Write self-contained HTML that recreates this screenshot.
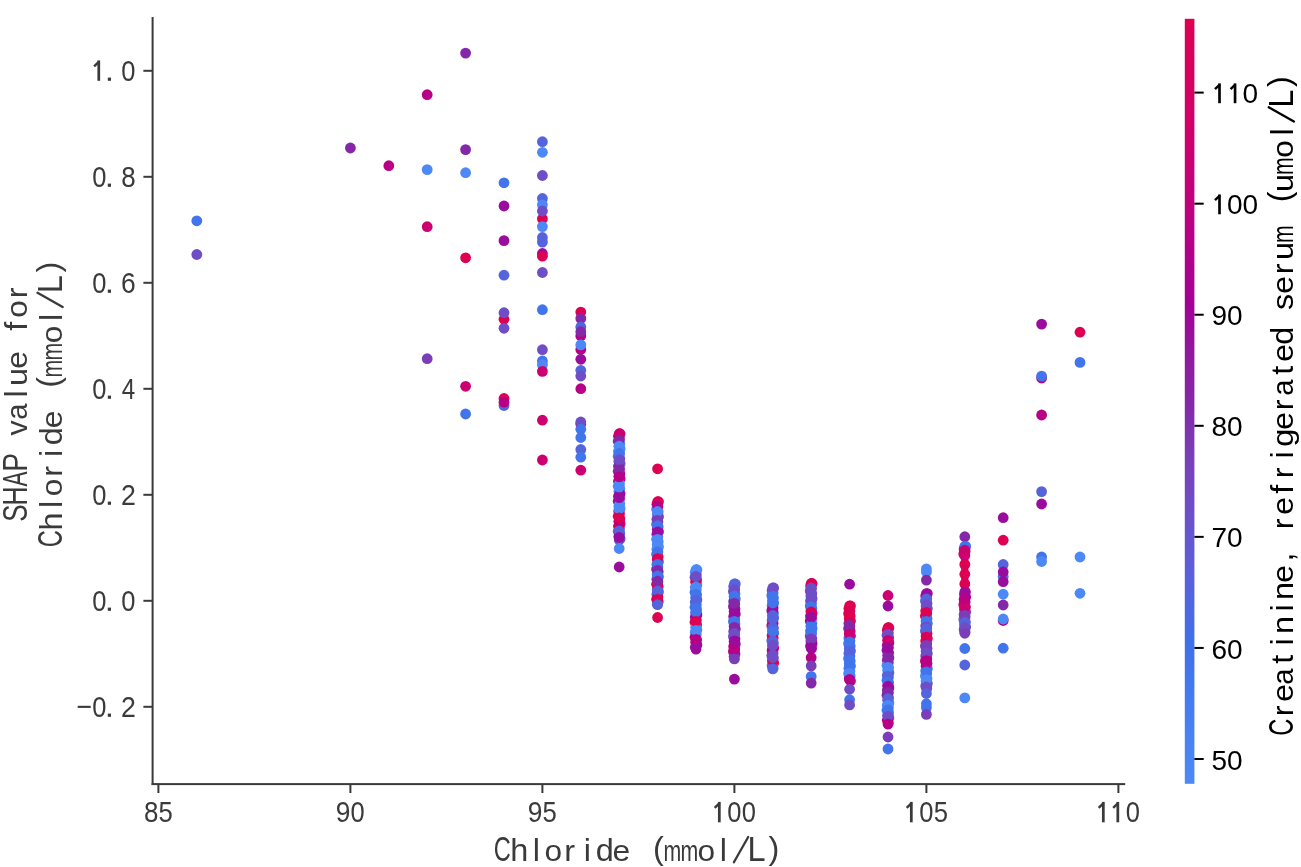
<!DOCTYPE html>
<html><head><meta charset="utf-8"><style>
html,body{margin:0;padding:0;background:#fff;overflow:hidden;width:1301px;height:867px;}
svg{display:block;filter:blur(0.4px);}
text{font-family:"Liberation Sans",sans-serif;}
</style></head><body>
<svg width="1301" height="867" viewBox="0 0 1301 867">
<rect width="1301" height="867" fill="#fff"/>
<defs><linearGradient id="cb" x1="0" y1="1" x2="0" y2="0"><stop offset="0.0" stop-color="#4d89f6"/><stop offset="0.093" stop-color="#467ef2"/><stop offset="0.184" stop-color="#3f70e8"/><stop offset="0.276" stop-color="#5b60da"/><stop offset="0.367" stop-color="#6f4dc6"/><stop offset="0.433" stop-color="#7b3db8"/><stop offset="0.498" stop-color="#8428a8"/><stop offset="0.563" stop-color="#92189e"/><stop offset="0.629" stop-color="#a30096"/><stop offset="0.72" stop-color="#b80086"/><stop offset="0.825" stop-color="#cc0070"/><stop offset="1.0" stop-color="#de0052"/></linearGradient></defs>
<rect x="151.6" y="17" width="2" height="768" fill="#3a3a3a"/>
<rect x="151.6" y="783.1" width="973.6" height="2" fill="#3a3a3a"/>
<rect x="157.40" y="784" width="2" height="9" fill="#3a3a3a"/>
<g><text transform="translate(143.93,822.30) scale(0.901,1.0)" font-size="28.8" fill="#3a3a3a">8</text><text transform="translate(158.53,822.30) scale(0.892,1.0)" font-size="28.8" fill="#3a3a3a">5</text></g>
<rect x="349.40" y="784" width="2" height="9" fill="#3a3a3a"/>
<g><text transform="translate(335.82,822.30) scale(0.916,1.0)" font-size="28.8" fill="#3a3a3a">9</text><text transform="translate(350.56,822.30) scale(0.885,1.0)" font-size="28.8" fill="#3a3a3a">0</text></g>
<rect x="541.40" y="784" width="2" height="9" fill="#3a3a3a"/>
<g><text transform="translate(527.82,822.30) scale(0.916,1.0)" font-size="28.8" fill="#3a3a3a">9</text><text transform="translate(542.53,822.30) scale(0.892,1.0)" font-size="28.8" fill="#3a3a3a">5</text></g>
<rect x="733.40" y="784" width="2" height="9" fill="#3a3a3a"/>
<g><rect x="717.95" y="801.91" width="2.74" height="20.39" fill="#3a3a3a"/><line x1="719.59" y1="803.14" x2="714.67" y2="807.81" stroke="#3a3a3a" stroke-width="2.46"/><text transform="translate(727.31,822.30) scale(0.885,1.0)" font-size="28.8" fill="#3a3a3a">0</text><text transform="translate(741.81,822.30) scale(0.885,1.0)" font-size="28.8" fill="#3a3a3a">0</text></g>
<rect x="925.40" y="784" width="2" height="9" fill="#3a3a3a"/>
<g><rect x="909.95" y="801.91" width="2.74" height="20.39" fill="#3a3a3a"/><line x1="911.59" y1="803.14" x2="906.67" y2="807.81" stroke="#3a3a3a" stroke-width="2.46"/><text transform="translate(919.31,822.30) scale(0.885,1.0)" font-size="28.8" fill="#3a3a3a">0</text><text transform="translate(933.78,822.30) scale(0.892,1.0)" font-size="28.8" fill="#3a3a3a">5</text></g>
<rect x="1117.40" y="784" width="2" height="9" fill="#3a3a3a"/>
<g><rect x="1101.95" y="801.91" width="2.74" height="20.39" fill="#3a3a3a"/><line x1="1103.59" y1="803.14" x2="1098.67" y2="807.81" stroke="#3a3a3a" stroke-width="2.46"/><rect x="1116.45" y="801.91" width="2.74" height="20.39" fill="#3a3a3a"/><line x1="1118.09" y1="803.14" x2="1113.17" y2="807.81" stroke="#3a3a3a" stroke-width="2.46"/><text transform="translate(1125.81,822.30) scale(0.885,1.0)" font-size="28.8" fill="#3a3a3a">0</text></g>
<rect x="143.4" y="69.80" width="9" height="2" fill="#3a3a3a"/>
<g><rect x="97.40" y="60.41" width="2.74" height="20.39" fill="#3a3a3a"/><line x1="99.04" y1="61.64" x2="94.12" y2="66.31" stroke="#3a3a3a" stroke-width="2.46"/></g>
<g><text transform="translate(121.26,80.80) scale(0.885,1.0)" font-size="28.8" fill="#3a3a3a">0</text></g>
<rect x="107.80" y="77.60" width="3.2" height="3.2" fill="#3a3a3a"/>
<rect x="143.4" y="175.80" width="9" height="2" fill="#3a3a3a"/>
<g><text transform="translate(92.26,186.80) scale(0.885,1.0)" font-size="28.8" fill="#3a3a3a">0</text></g>
<g><text transform="translate(121.13,186.80) scale(0.901,1.0)" font-size="28.8" fill="#3a3a3a">8</text></g>
<rect x="107.80" y="183.60" width="3.2" height="3.2" fill="#3a3a3a"/>
<rect x="143.4" y="281.80" width="9" height="2" fill="#3a3a3a"/>
<g><text transform="translate(92.26,292.80) scale(0.885,1.0)" font-size="28.8" fill="#3a3a3a">0</text></g>
<g><text transform="translate(120.92,292.80) scale(0.917,1.0)" font-size="28.8" fill="#3a3a3a">6</text></g>
<rect x="107.80" y="289.60" width="3.2" height="3.2" fill="#3a3a3a"/>
<rect x="143.4" y="387.80" width="9" height="2" fill="#3a3a3a"/>
<g><text transform="translate(92.26,398.80) scale(0.885,1.0)" font-size="28.8" fill="#3a3a3a">0</text></g>
<g><text transform="translate(121.71,398.80) scale(0.839,1.0)" font-size="28.8" fill="#3a3a3a">4</text></g>
<rect x="107.80" y="395.60" width="3.2" height="3.2" fill="#3a3a3a"/>
<rect x="143.4" y="493.80" width="9" height="2" fill="#3a3a3a"/>
<g><text transform="translate(92.26,504.80) scale(0.885,1.0)" font-size="28.8" fill="#3a3a3a">0</text></g>
<g><text transform="translate(120.92,504.80) scale(0.928,1.0)" font-size="28.8" fill="#3a3a3a">2</text></g>
<rect x="107.80" y="501.60" width="3.2" height="3.2" fill="#3a3a3a"/>
<rect x="143.4" y="599.80" width="9" height="2" fill="#3a3a3a"/>
<g><text transform="translate(92.26,610.80) scale(0.885,1.0)" font-size="28.8" fill="#3a3a3a">0</text></g>
<g><text transform="translate(121.26,610.80) scale(0.885,1.0)" font-size="28.8" fill="#3a3a3a">0</text></g>
<rect x="107.80" y="607.60" width="3.2" height="3.2" fill="#3a3a3a"/>
<rect x="143.4" y="705.80" width="9" height="2" fill="#3a3a3a"/>
<g><text transform="translate(92.26,716.80) scale(0.885,1.0)" font-size="28.8" fill="#3a3a3a">0</text></g>
<g><text transform="translate(120.92,716.80) scale(0.928,1.0)" font-size="28.8" fill="#3a3a3a">2</text></g>
<rect x="107.80" y="713.60" width="3.2" height="3.2" fill="#3a3a3a"/>
<rect x="77.7" y="705.80" width="13" height="2.1" fill="#3a3a3a"/>
<g><text transform="translate(493.72,861.30) scale(0.691,1.0)" font-size="34.2" fill="#3a3a3a">C</text><text transform="translate(510.29,861.30) scale(0.950,0.94)" font-size="34.2" fill="#3a3a3a">h</text><text transform="translate(532.78,861.30) scale(0.950,0.94)" font-size="34.2" fill="#3a3a3a">l</text><text transform="translate(544.59,861.30) scale(0.926,0.86)" font-size="34.2" fill="#3a3a3a">o</text><text transform="translate(564.18,861.30) scale(0.950,0.86)" font-size="34.2" fill="#3a3a3a">r</text><text transform="translate(583.80,861.30) scale(0.950,0.94)" font-size="34.2" fill="#3a3a3a">i</text><text transform="translate(595.73,861.30) scale(0.950,0.94)" font-size="34.2" fill="#3a3a3a">d</text><text transform="translate(612.57,861.30) scale(0.932,0.86)" font-size="34.2" fill="#3a3a3a">e</text><text transform="translate(653.10,858.73) scale(0.950,0.9)" font-size="34.2" fill="#3a3a3a">(</text><text transform="translate(663.50,861.30) scale(0.624,0.86)" font-size="34.2" fill="#3a3a3a">m</text><text transform="translate(680.50,861.30) scale(0.624,0.86)" font-size="34.2" fill="#3a3a3a">m</text><text transform="translate(697.59,861.30) scale(0.926,0.86)" font-size="34.2" fill="#3a3a3a">o</text><text transform="translate(719.78,861.30) scale(0.950,0.94)" font-size="34.2" fill="#3a3a3a">l</text><line x1="733.90" y1="862.20" x2="748.20" y2="837.00" stroke="#3a3a3a" stroke-width="2.3" stroke-linecap="round"/><text transform="translate(747.57,861.30) scale(0.950,1.0)" font-size="34.2" fill="#3a3a3a">L</text><text transform="translate(768.43,858.73) scale(0.950,0.9)" font-size="34.2" fill="#3a3a3a">)</text></g>
<g transform="translate(27,402.5) rotate(-90)"><g><text transform="translate(-119.16,0.00) scale(0.760,1.0)" font-size="34.2" fill="#3a3a3a">S</text><text transform="translate(-103.18,0.00) scale(0.783,1.0)" font-size="34.2" fill="#3a3a3a">H</text><text transform="translate(-84.02,0.00) scale(0.660,1.0)" font-size="34.2" fill="#3a3a3a">A</text><text transform="translate(-69.29,0.00) scale(0.822,1.0)" font-size="34.2" fill="#3a3a3a">P</text><text transform="translate(-33.08,0.00) scale(0.887,0.86)" font-size="34.2" fill="#3a3a3a">v</text><text transform="translate(-17.22,0.00) scale(0.852,0.86)" font-size="34.2" fill="#3a3a3a">a</text><text transform="translate(4.88,0.00) scale(0.950,0.94)" font-size="34.2" fill="#3a3a3a">l</text><text transform="translate(16.49,0.00) scale(0.950,0.86)" font-size="34.2" fill="#3a3a3a">u</text><text transform="translate(33.67,0.00) scale(0.932,0.86)" font-size="34.2" fill="#3a3a3a">e</text><text transform="translate(71.73,0.00) scale(0.950,0.94)" font-size="34.2" fill="#3a3a3a">f</text><text transform="translate(84.69,0.00) scale(0.926,0.86)" font-size="34.2" fill="#3a3a3a">o</text><text transform="translate(104.28,0.00) scale(0.950,0.86)" font-size="34.2" fill="#3a3a3a">r</text></g></g>
<g transform="translate(61.8,402.5) rotate(-90)"><g><text transform="translate(-144.68,0.00) scale(0.691,1.0)" font-size="34.2" fill="#3a3a3a">C</text><text transform="translate(-128.11,0.00) scale(0.950,0.94)" font-size="34.2" fill="#3a3a3a">h</text><text transform="translate(-105.62,0.00) scale(0.950,0.94)" font-size="34.2" fill="#3a3a3a">l</text><text transform="translate(-93.81,0.00) scale(0.926,0.86)" font-size="34.2" fill="#3a3a3a">o</text><text transform="translate(-74.22,0.00) scale(0.950,0.86)" font-size="34.2" fill="#3a3a3a">r</text><text transform="translate(-54.60,0.00) scale(0.950,0.94)" font-size="34.2" fill="#3a3a3a">i</text><text transform="translate(-42.67,0.00) scale(0.950,0.94)" font-size="34.2" fill="#3a3a3a">d</text><text transform="translate(-25.83,0.00) scale(0.932,0.86)" font-size="34.2" fill="#3a3a3a">e</text><text transform="translate(14.70,-2.56) scale(0.950,0.9)" font-size="34.2" fill="#3a3a3a">(</text><text transform="translate(25.10,0.00) scale(0.624,0.86)" font-size="34.2" fill="#3a3a3a">m</text><text transform="translate(42.10,0.00) scale(0.624,0.86)" font-size="34.2" fill="#3a3a3a">m</text><text transform="translate(59.19,0.00) scale(0.926,0.86)" font-size="34.2" fill="#3a3a3a">o</text><text transform="translate(81.38,0.00) scale(0.950,0.94)" font-size="34.2" fill="#3a3a3a">l</text><line x1="95.50" y1="0.90" x2="109.80" y2="-24.30" stroke="#3a3a3a" stroke-width="2.3" stroke-linecap="round"/><text transform="translate(109.17,0.00) scale(0.950,1.0)" font-size="34.2" fill="#3a3a3a">L</text><text transform="translate(130.03,-2.56) scale(0.950,0.9)" font-size="34.2" fill="#3a3a3a">)</text></g></g>
<circle cx="620.1" cy="433.7" r="5.4" fill="#cc0070"/>
<circle cx="618.5" cy="436.2" r="5.4" fill="#cc0070"/>
<circle cx="619.5" cy="438.7" r="5.4" fill="#8428a8"/>
<circle cx="618.2" cy="441.2" r="5.4" fill="#8428a8"/>
<circle cx="619.8" cy="443.7" r="5.4" fill="#4d89f6"/>
<circle cx="618.9" cy="446.2" r="5.4" fill="#4d89f6"/>
<circle cx="620.1" cy="448.7" r="5.4" fill="#4d89f6"/>
<circle cx="618.5" cy="451.2" r="5.4" fill="#4d89f6"/>
<circle cx="619.5" cy="453.7" r="5.4" fill="#4274ec"/>
<circle cx="618.2" cy="456.2" r="5.4" fill="#4274ec"/>
<circle cx="619.8" cy="458.7" r="5.4" fill="#6f4dc6"/>
<circle cx="618.9" cy="461.2" r="5.4" fill="#6f4dc6"/>
<circle cx="620.1" cy="463.7" r="5.4" fill="#6f4dc6"/>
<circle cx="618.5" cy="466.2" r="5.4" fill="#8428a8"/>
<circle cx="619.5" cy="468.7" r="5.4" fill="#8428a8"/>
<circle cx="618.2" cy="471.2" r="5.4" fill="#8428a8"/>
<circle cx="619.8" cy="473.7" r="5.4" fill="#b80086"/>
<circle cx="618.9" cy="476.2" r="5.4" fill="#b80086"/>
<circle cx="620.1" cy="478.7" r="5.4" fill="#b80086"/>
<circle cx="618.5" cy="481.2" r="5.4" fill="#b80086"/>
<circle cx="619.5" cy="483.7" r="5.4" fill="#4d89f6"/>
<circle cx="618.2" cy="486.2" r="5.4" fill="#4d89f6"/>
<circle cx="619.8" cy="488.7" r="5.4" fill="#4d89f6"/>
<circle cx="618.9" cy="491.2" r="5.4" fill="#4d89f6"/>
<circle cx="620.1" cy="493.7" r="5.4" fill="#9a0c9e"/>
<circle cx="618.5" cy="496.2" r="5.4" fill="#9a0c9e"/>
<circle cx="619.5" cy="498.7" r="5.4" fill="#9a0c9e"/>
<circle cx="618.2" cy="501.2" r="5.4" fill="#9a0c9e"/>
<circle cx="619.8" cy="503.7" r="5.4" fill="#4d89f6"/>
<circle cx="618.9" cy="506.2" r="5.4" fill="#4d89f6"/>
<circle cx="620.1" cy="508.7" r="5.4" fill="#4d89f6"/>
<circle cx="618.5" cy="511.2" r="5.4" fill="#4d89f6"/>
<circle cx="619.5" cy="513.7" r="5.4" fill="#de0052"/>
<circle cx="618.2" cy="516.2" r="5.4" fill="#de0052"/>
<circle cx="619.8" cy="518.7" r="5.4" fill="#de0052"/>
<circle cx="618.9" cy="521.2" r="5.4" fill="#b80086"/>
<circle cx="620.1" cy="523.7" r="5.4" fill="#de0052"/>
<circle cx="618.5" cy="526.2" r="5.4" fill="#de0052"/>
<circle cx="619.5" cy="528.7" r="5.4" fill="#5563dc"/>
<circle cx="618.2" cy="531.2" r="5.4" fill="#5563dc"/>
<circle cx="619.8" cy="533.7" r="5.4" fill="#5563dc"/>
<circle cx="618.9" cy="536.2" r="5.4" fill="#9a0c9e"/>
<circle cx="620.1" cy="538.7" r="5.4" fill="#6f4dc6"/>
<circle cx="658.5" cy="501.7" r="5.4" fill="#de0052"/>
<circle cx="656.9" cy="504.2" r="5.4" fill="#b80086"/>
<circle cx="657.9" cy="506.7" r="5.4" fill="#b80086"/>
<circle cx="656.6" cy="509.2" r="5.4" fill="#4d89f6"/>
<circle cx="658.2" cy="511.7" r="5.4" fill="#4d89f6"/>
<circle cx="657.3" cy="514.2" r="5.4" fill="#4d89f6"/>
<circle cx="658.5" cy="516.7" r="5.4" fill="#7b3db8"/>
<circle cx="656.9" cy="519.2" r="5.4" fill="#7b3db8"/>
<circle cx="657.9" cy="521.7" r="5.4" fill="#7b3db8"/>
<circle cx="656.6" cy="524.2" r="5.4" fill="#4274ec"/>
<circle cx="658.2" cy="526.7" r="5.4" fill="#4274ec"/>
<circle cx="657.3" cy="529.2" r="5.4" fill="#9a0c9e"/>
<circle cx="658.5" cy="531.7" r="5.4" fill="#9a0c9e"/>
<circle cx="656.9" cy="534.2" r="5.4" fill="#9a0c9e"/>
<circle cx="657.9" cy="536.7" r="5.4" fill="#4d89f6"/>
<circle cx="656.6" cy="539.2" r="5.4" fill="#4d89f6"/>
<circle cx="658.2" cy="541.7" r="5.4" fill="#4d89f6"/>
<circle cx="657.3" cy="544.2" r="5.4" fill="#4d89f6"/>
<circle cx="658.5" cy="546.7" r="5.4" fill="#4d89f6"/>
<circle cx="656.9" cy="549.2" r="5.4" fill="#4d89f6"/>
<circle cx="657.9" cy="551.7" r="5.4" fill="#4274ec"/>
<circle cx="656.6" cy="554.2" r="5.4" fill="#4274ec"/>
<circle cx="658.2" cy="556.7" r="5.4" fill="#de0052"/>
<circle cx="657.3" cy="559.2" r="5.4" fill="#de0052"/>
<circle cx="658.5" cy="561.7" r="5.4" fill="#4274ec"/>
<circle cx="656.9" cy="564.2" r="5.4" fill="#4274ec"/>
<circle cx="657.9" cy="566.7" r="5.4" fill="#4274ec"/>
<circle cx="656.6" cy="569.2" r="5.4" fill="#8428a8"/>
<circle cx="658.2" cy="571.7" r="5.4" fill="#8428a8"/>
<circle cx="657.3" cy="574.2" r="5.4" fill="#4274ec"/>
<circle cx="658.5" cy="576.7" r="5.4" fill="#4274ec"/>
<circle cx="656.9" cy="579.2" r="5.4" fill="#8428a8"/>
<circle cx="657.9" cy="581.7" r="5.4" fill="#8428a8"/>
<circle cx="656.6" cy="584.2" r="5.4" fill="#de0052"/>
<circle cx="658.2" cy="586.7" r="5.4" fill="#de0052"/>
<circle cx="657.3" cy="589.2" r="5.4" fill="#5563dc"/>
<circle cx="658.5" cy="591.7" r="5.4" fill="#5563dc"/>
<circle cx="656.9" cy="594.2" r="5.4" fill="#5563dc"/>
<circle cx="657.9" cy="596.7" r="5.4" fill="#de0052"/>
<circle cx="656.6" cy="599.2" r="5.4" fill="#de0052"/>
<circle cx="658.2" cy="601.7" r="5.4" fill="#de0052"/>
<circle cx="657.3" cy="604.2" r="5.4" fill="#5563dc"/>
<circle cx="696.9" cy="569.7" r="5.4" fill="#4d89f6"/>
<circle cx="695.3" cy="572.2" r="5.4" fill="#4d89f6"/>
<circle cx="696.3" cy="574.7" r="5.4" fill="#6f4dc6"/>
<circle cx="695.0" cy="577.2" r="5.4" fill="#6f4dc6"/>
<circle cx="696.6" cy="579.7" r="5.4" fill="#de0052"/>
<circle cx="695.7" cy="582.2" r="5.4" fill="#de0052"/>
<circle cx="696.9" cy="584.7" r="5.4" fill="#4d89f6"/>
<circle cx="695.3" cy="587.2" r="5.4" fill="#4d89f6"/>
<circle cx="696.3" cy="589.7" r="5.4" fill="#4d89f6"/>
<circle cx="695.0" cy="592.2" r="5.4" fill="#4274ec"/>
<circle cx="696.6" cy="594.7" r="5.4" fill="#4274ec"/>
<circle cx="695.7" cy="597.2" r="5.4" fill="#4274ec"/>
<circle cx="696.9" cy="599.7" r="5.4" fill="#5563dc"/>
<circle cx="695.3" cy="602.2" r="5.4" fill="#5563dc"/>
<circle cx="696.3" cy="604.7" r="5.4" fill="#4274ec"/>
<circle cx="695.0" cy="607.2" r="5.4" fill="#4274ec"/>
<circle cx="696.6" cy="609.7" r="5.4" fill="#4274ec"/>
<circle cx="695.7" cy="612.2" r="5.4" fill="#4274ec"/>
<circle cx="696.9" cy="614.7" r="5.4" fill="#9a0c9e"/>
<circle cx="695.3" cy="617.2" r="5.4" fill="#9a0c9e"/>
<circle cx="696.3" cy="619.7" r="5.4" fill="#de0052"/>
<circle cx="695.0" cy="622.2" r="5.4" fill="#de0052"/>
<circle cx="696.6" cy="624.7" r="5.4" fill="#de0052"/>
<circle cx="695.7" cy="627.2" r="5.4" fill="#4d89f6"/>
<circle cx="696.9" cy="629.7" r="5.4" fill="#4d89f6"/>
<circle cx="695.3" cy="632.2" r="5.4" fill="#4d89f6"/>
<circle cx="696.3" cy="634.7" r="5.4" fill="#4d89f6"/>
<circle cx="695.0" cy="637.2" r="5.4" fill="#b80086"/>
<circle cx="696.6" cy="639.7" r="5.4" fill="#b80086"/>
<circle cx="695.7" cy="642.2" r="5.4" fill="#b80086"/>
<circle cx="696.9" cy="644.7" r="5.4" fill="#9a0c9e"/>
<circle cx="695.3" cy="647.2" r="5.4" fill="#9a0c9e"/>
<circle cx="735.3" cy="584.0" r="5.4" fill="#5563dc"/>
<circle cx="733.7" cy="586.5" r="5.4" fill="#5563dc"/>
<circle cx="734.7" cy="589.0" r="5.4" fill="#6f4dc6"/>
<circle cx="733.4" cy="591.5" r="5.4" fill="#6f4dc6"/>
<circle cx="735.0" cy="594.0" r="5.4" fill="#4274ec"/>
<circle cx="734.1" cy="596.5" r="5.4" fill="#4274ec"/>
<circle cx="735.3" cy="599.0" r="5.4" fill="#4274ec"/>
<circle cx="733.7" cy="601.5" r="5.4" fill="#8428a8"/>
<circle cx="734.7" cy="604.0" r="5.4" fill="#8428a8"/>
<circle cx="733.4" cy="606.5" r="5.4" fill="#8428a8"/>
<circle cx="735.0" cy="609.0" r="5.4" fill="#9a0c9e"/>
<circle cx="734.1" cy="611.5" r="5.4" fill="#9a0c9e"/>
<circle cx="735.3" cy="614.0" r="5.4" fill="#9a0c9e"/>
<circle cx="733.7" cy="616.5" r="5.4" fill="#9a0c9e"/>
<circle cx="734.7" cy="619.0" r="5.4" fill="#4274ec"/>
<circle cx="733.4" cy="621.5" r="5.4" fill="#4274ec"/>
<circle cx="735.0" cy="624.0" r="5.4" fill="#4274ec"/>
<circle cx="734.1" cy="626.5" r="5.4" fill="#8428a8"/>
<circle cx="735.3" cy="629.0" r="5.4" fill="#8428a8"/>
<circle cx="733.7" cy="631.5" r="5.4" fill="#6f4dc6"/>
<circle cx="734.7" cy="634.0" r="5.4" fill="#6f4dc6"/>
<circle cx="733.4" cy="636.5" r="5.4" fill="#6f4dc6"/>
<circle cx="735.0" cy="639.0" r="5.4" fill="#9a0c9e"/>
<circle cx="734.1" cy="641.5" r="5.4" fill="#9a0c9e"/>
<circle cx="735.3" cy="644.0" r="5.4" fill="#9a0c9e"/>
<circle cx="733.7" cy="646.5" r="5.4" fill="#b80086"/>
<circle cx="734.7" cy="649.0" r="5.4" fill="#b80086"/>
<circle cx="733.4" cy="651.5" r="5.4" fill="#b80086"/>
<circle cx="735.0" cy="654.0" r="5.4" fill="#b80086"/>
<circle cx="734.1" cy="656.5" r="5.4" fill="#7b3db8"/>
<circle cx="773.7" cy="588.0" r="5.4" fill="#6f4dc6"/>
<circle cx="772.1" cy="590.5" r="5.4" fill="#6f4dc6"/>
<circle cx="773.1" cy="593.0" r="5.4" fill="#4274ec"/>
<circle cx="771.8" cy="595.5" r="5.4" fill="#4274ec"/>
<circle cx="773.4" cy="598.0" r="5.4" fill="#4274ec"/>
<circle cx="772.5" cy="600.5" r="5.4" fill="#4274ec"/>
<circle cx="773.7" cy="603.0" r="5.4" fill="#4274ec"/>
<circle cx="772.1" cy="605.5" r="5.4" fill="#4274ec"/>
<circle cx="773.1" cy="608.0" r="5.4" fill="#9a0c9e"/>
<circle cx="771.8" cy="610.5" r="5.4" fill="#9a0c9e"/>
<circle cx="773.4" cy="613.0" r="5.4" fill="#5563dc"/>
<circle cx="772.5" cy="615.5" r="5.4" fill="#5563dc"/>
<circle cx="773.7" cy="618.0" r="5.4" fill="#5563dc"/>
<circle cx="772.1" cy="620.5" r="5.4" fill="#5563dc"/>
<circle cx="773.1" cy="623.0" r="5.4" fill="#cc0070"/>
<circle cx="771.8" cy="625.5" r="5.4" fill="#cc0070"/>
<circle cx="773.4" cy="628.0" r="5.4" fill="#5563dc"/>
<circle cx="772.5" cy="630.5" r="5.4" fill="#4274ec"/>
<circle cx="773.7" cy="633.0" r="5.4" fill="#4274ec"/>
<circle cx="772.1" cy="635.5" r="5.4" fill="#de0052"/>
<circle cx="773.1" cy="638.0" r="5.4" fill="#de0052"/>
<circle cx="771.8" cy="640.5" r="5.4" fill="#5563dc"/>
<circle cx="773.4" cy="643.0" r="5.4" fill="#5563dc"/>
<circle cx="772.5" cy="645.5" r="5.4" fill="#6f4dc6"/>
<circle cx="773.7" cy="648.0" r="5.4" fill="#b80086"/>
<circle cx="772.1" cy="650.5" r="5.4" fill="#b80086"/>
<circle cx="773.1" cy="653.0" r="5.4" fill="#6f4dc6"/>
<circle cx="771.8" cy="655.5" r="5.4" fill="#6f4dc6"/>
<circle cx="773.4" cy="658.0" r="5.4" fill="#6f4dc6"/>
<circle cx="772.5" cy="660.5" r="5.4" fill="#de0052"/>
<circle cx="773.7" cy="663.0" r="5.4" fill="#de0052"/>
<circle cx="772.1" cy="665.5" r="5.4" fill="#5563dc"/>
<circle cx="773.1" cy="668.0" r="5.4" fill="#5563dc"/>
<circle cx="812.1" cy="583.5" r="5.4" fill="#de0052"/>
<circle cx="810.5" cy="586.0" r="5.4" fill="#6f4dc6"/>
<circle cx="811.5" cy="588.5" r="5.4" fill="#6f4dc6"/>
<circle cx="810.2" cy="591.0" r="5.4" fill="#6f4dc6"/>
<circle cx="811.8" cy="593.5" r="5.4" fill="#6f4dc6"/>
<circle cx="810.9" cy="596.0" r="5.4" fill="#6f4dc6"/>
<circle cx="812.1" cy="598.5" r="5.4" fill="#6f4dc6"/>
<circle cx="810.5" cy="601.0" r="5.4" fill="#6f4dc6"/>
<circle cx="811.5" cy="603.5" r="5.4" fill="#4274ec"/>
<circle cx="810.2" cy="606.0" r="5.4" fill="#4274ec"/>
<circle cx="811.8" cy="608.5" r="5.4" fill="#4274ec"/>
<circle cx="810.9" cy="611.0" r="5.4" fill="#de0052"/>
<circle cx="812.1" cy="613.5" r="5.4" fill="#de0052"/>
<circle cx="810.5" cy="616.0" r="5.4" fill="#9a0c9e"/>
<circle cx="811.5" cy="618.5" r="5.4" fill="#9a0c9e"/>
<circle cx="810.2" cy="621.0" r="5.4" fill="#9a0c9e"/>
<circle cx="811.8" cy="623.5" r="5.4" fill="#4274ec"/>
<circle cx="810.9" cy="626.0" r="5.4" fill="#4274ec"/>
<circle cx="812.1" cy="628.5" r="5.4" fill="#4274ec"/>
<circle cx="810.5" cy="631.0" r="5.4" fill="#4274ec"/>
<circle cx="811.5" cy="633.5" r="5.4" fill="#4274ec"/>
<circle cx="810.2" cy="636.0" r="5.4" fill="#7b3db8"/>
<circle cx="811.8" cy="638.5" r="5.4" fill="#7b3db8"/>
<circle cx="810.9" cy="641.0" r="5.4" fill="#7b3db8"/>
<circle cx="812.1" cy="643.5" r="5.4" fill="#9a0c9e"/>
<circle cx="810.5" cy="646.0" r="5.4" fill="#9a0c9e"/>
<circle cx="811.5" cy="648.5" r="5.4" fill="#9a0c9e"/>
<circle cx="850.5" cy="606.0" r="5.4" fill="#de0052"/>
<circle cx="848.9" cy="608.5" r="5.4" fill="#de0052"/>
<circle cx="849.9" cy="611.0" r="5.4" fill="#de0052"/>
<circle cx="848.6" cy="613.5" r="5.4" fill="#de0052"/>
<circle cx="850.2" cy="616.0" r="5.4" fill="#de0052"/>
<circle cx="849.3" cy="618.5" r="5.4" fill="#de0052"/>
<circle cx="850.5" cy="621.0" r="5.4" fill="#de0052"/>
<circle cx="848.9" cy="623.5" r="5.4" fill="#8428a8"/>
<circle cx="849.9" cy="626.0" r="5.4" fill="#8428a8"/>
<circle cx="848.6" cy="628.5" r="5.4" fill="#8428a8"/>
<circle cx="850.2" cy="631.0" r="5.4" fill="#cc0070"/>
<circle cx="849.3" cy="633.5" r="5.4" fill="#cc0070"/>
<circle cx="850.5" cy="636.0" r="5.4" fill="#cc0070"/>
<circle cx="848.9" cy="638.5" r="5.4" fill="#4274ec"/>
<circle cx="849.9" cy="641.0" r="5.4" fill="#4274ec"/>
<circle cx="848.6" cy="643.5" r="5.4" fill="#4274ec"/>
<circle cx="850.2" cy="646.0" r="5.4" fill="#4274ec"/>
<circle cx="849.3" cy="648.5" r="5.4" fill="#5563dc"/>
<circle cx="850.5" cy="651.0" r="5.4" fill="#5563dc"/>
<circle cx="848.9" cy="653.5" r="5.4" fill="#5563dc"/>
<circle cx="849.9" cy="656.0" r="5.4" fill="#4274ec"/>
<circle cx="848.6" cy="658.5" r="5.4" fill="#4274ec"/>
<circle cx="850.2" cy="661.0" r="5.4" fill="#4274ec"/>
<circle cx="849.3" cy="663.5" r="5.4" fill="#4274ec"/>
<circle cx="850.5" cy="666.0" r="5.4" fill="#4274ec"/>
<circle cx="848.9" cy="668.5" r="5.4" fill="#4274ec"/>
<circle cx="849.9" cy="671.0" r="5.4" fill="#4d89f6"/>
<circle cx="848.6" cy="673.5" r="5.4" fill="#4d89f6"/>
<circle cx="850.2" cy="676.0" r="5.4" fill="#4d89f6"/>
<circle cx="849.3" cy="678.5" r="5.4" fill="#b80086"/>
<circle cx="850.5" cy="681.0" r="5.4" fill="#b80086"/>
<circle cx="888.9" cy="627.7" r="5.4" fill="#de0052"/>
<circle cx="887.3" cy="630.2" r="5.4" fill="#de0052"/>
<circle cx="888.3" cy="632.7" r="5.4" fill="#6f4dc6"/>
<circle cx="887.0" cy="635.2" r="5.4" fill="#6f4dc6"/>
<circle cx="888.6" cy="637.7" r="5.4" fill="#cc0070"/>
<circle cx="887.7" cy="640.2" r="5.4" fill="#cc0070"/>
<circle cx="888.9" cy="642.7" r="5.4" fill="#cc0070"/>
<circle cx="887.3" cy="645.2" r="5.4" fill="#9a0c9e"/>
<circle cx="888.3" cy="647.7" r="5.4" fill="#9a0c9e"/>
<circle cx="887.0" cy="650.2" r="5.4" fill="#9a0c9e"/>
<circle cx="888.6" cy="652.7" r="5.4" fill="#9a0c9e"/>
<circle cx="887.7" cy="655.2" r="5.4" fill="#8428a8"/>
<circle cx="888.9" cy="657.7" r="5.4" fill="#8428a8"/>
<circle cx="887.3" cy="660.2" r="5.4" fill="#8428a8"/>
<circle cx="888.3" cy="662.7" r="5.4" fill="#8428a8"/>
<circle cx="887.0" cy="665.2" r="5.4" fill="#4d89f6"/>
<circle cx="888.6" cy="667.7" r="5.4" fill="#4d89f6"/>
<circle cx="887.7" cy="670.2" r="5.4" fill="#4d89f6"/>
<circle cx="888.9" cy="672.7" r="5.4" fill="#5563dc"/>
<circle cx="887.3" cy="675.2" r="5.4" fill="#5563dc"/>
<circle cx="888.3" cy="677.7" r="5.4" fill="#5563dc"/>
<circle cx="887.0" cy="680.2" r="5.4" fill="#4274ec"/>
<circle cx="888.6" cy="682.7" r="5.4" fill="#4274ec"/>
<circle cx="887.7" cy="685.2" r="5.4" fill="#9a0c9e"/>
<circle cx="888.9" cy="687.7" r="5.4" fill="#9a0c9e"/>
<circle cx="887.3" cy="690.2" r="5.4" fill="#8428a8"/>
<circle cx="888.3" cy="692.7" r="5.4" fill="#8428a8"/>
<circle cx="887.0" cy="695.2" r="5.4" fill="#8428a8"/>
<circle cx="888.6" cy="697.7" r="5.4" fill="#5563dc"/>
<circle cx="887.7" cy="700.2" r="5.4" fill="#5563dc"/>
<circle cx="888.9" cy="702.7" r="5.4" fill="#4d89f6"/>
<circle cx="887.3" cy="705.2" r="5.4" fill="#4d89f6"/>
<circle cx="888.3" cy="707.7" r="5.4" fill="#4274ec"/>
<circle cx="887.0" cy="710.2" r="5.4" fill="#4274ec"/>
<circle cx="888.6" cy="712.7" r="5.4" fill="#4274ec"/>
<circle cx="887.7" cy="715.2" r="5.4" fill="#6f4dc6"/>
<circle cx="888.9" cy="717.7" r="5.4" fill="#6f4dc6"/>
<circle cx="887.3" cy="720.2" r="5.4" fill="#b80086"/>
<circle cx="888.3" cy="722.7" r="5.4" fill="#b80086"/>
<circle cx="927.3" cy="593.6" r="5.4" fill="#9a0c9e"/>
<circle cx="925.7" cy="596.1" r="5.4" fill="#9a0c9e"/>
<circle cx="926.7" cy="598.6" r="5.4" fill="#5563dc"/>
<circle cx="925.4" cy="601.1" r="5.4" fill="#5563dc"/>
<circle cx="927.0" cy="603.6" r="5.4" fill="#6f4dc6"/>
<circle cx="926.1" cy="606.1" r="5.4" fill="#6f4dc6"/>
<circle cx="927.3" cy="608.6" r="5.4" fill="#6f4dc6"/>
<circle cx="925.7" cy="611.1" r="5.4" fill="#de0052"/>
<circle cx="926.7" cy="613.6" r="5.4" fill="#de0052"/>
<circle cx="925.4" cy="616.1" r="5.4" fill="#de0052"/>
<circle cx="927.0" cy="618.6" r="5.4" fill="#4274ec"/>
<circle cx="926.1" cy="621.1" r="5.4" fill="#4274ec"/>
<circle cx="927.3" cy="623.6" r="5.4" fill="#4274ec"/>
<circle cx="925.7" cy="626.1" r="5.4" fill="#6f4dc6"/>
<circle cx="926.7" cy="628.6" r="5.4" fill="#5563dc"/>
<circle cx="925.4" cy="631.1" r="5.4" fill="#5563dc"/>
<circle cx="927.0" cy="633.6" r="5.4" fill="#de0052"/>
<circle cx="926.1" cy="636.1" r="5.4" fill="#de0052"/>
<circle cx="927.3" cy="638.6" r="5.4" fill="#de0052"/>
<circle cx="925.7" cy="641.1" r="5.4" fill="#de0052"/>
<circle cx="926.7" cy="643.6" r="5.4" fill="#7b3db8"/>
<circle cx="925.4" cy="646.1" r="5.4" fill="#7b3db8"/>
<circle cx="927.0" cy="648.6" r="5.4" fill="#7b3db8"/>
<circle cx="926.1" cy="651.1" r="5.4" fill="#6f4dc6"/>
<circle cx="927.3" cy="653.6" r="5.4" fill="#6f4dc6"/>
<circle cx="925.7" cy="656.1" r="5.4" fill="#6f4dc6"/>
<circle cx="926.7" cy="658.6" r="5.4" fill="#b80086"/>
<circle cx="925.4" cy="661.1" r="5.4" fill="#b80086"/>
<circle cx="927.0" cy="663.6" r="5.4" fill="#b80086"/>
<circle cx="926.1" cy="666.1" r="5.4" fill="#b80086"/>
<circle cx="927.3" cy="668.6" r="5.4" fill="#4274ec"/>
<circle cx="925.7" cy="671.1" r="5.4" fill="#4274ec"/>
<circle cx="926.7" cy="673.6" r="5.4" fill="#4274ec"/>
<circle cx="925.4" cy="676.1" r="5.4" fill="#4d89f6"/>
<circle cx="927.0" cy="678.6" r="5.4" fill="#4d89f6"/>
<circle cx="926.1" cy="681.1" r="5.4" fill="#4d89f6"/>
<circle cx="927.3" cy="683.6" r="5.4" fill="#6f4dc6"/>
<circle cx="925.7" cy="686.1" r="5.4" fill="#6f4dc6"/>
<circle cx="926.7" cy="688.6" r="5.4" fill="#6f4dc6"/>
<circle cx="965.7" cy="546.4" r="5.4" fill="#4274ec"/>
<circle cx="964.1" cy="548.9" r="5.4" fill="#cc0070"/>
<circle cx="965.1" cy="551.4" r="5.4" fill="#cc0070"/>
<circle cx="963.8" cy="553.9" r="5.4" fill="#cc0070"/>
<circle cx="965.4" cy="592.0" r="5.4" fill="#9a0c9e"/>
<circle cx="964.5" cy="594.5" r="5.4" fill="#9a0c9e"/>
<circle cx="965.7" cy="597.0" r="5.4" fill="#b80086"/>
<circle cx="964.1" cy="599.5" r="5.4" fill="#b80086"/>
<circle cx="965.1" cy="602.0" r="5.4" fill="#b80086"/>
<circle cx="963.8" cy="604.5" r="5.4" fill="#cc0070"/>
<circle cx="965.4" cy="607.0" r="5.4" fill="#cc0070"/>
<circle cx="964.5" cy="609.5" r="5.4" fill="#cc0070"/>
<circle cx="965.7" cy="612.0" r="5.4" fill="#7b3db8"/>
<circle cx="964.1" cy="614.5" r="5.4" fill="#7b3db8"/>
<circle cx="965.1" cy="617.0" r="5.4" fill="#7b3db8"/>
<circle cx="963.8" cy="619.5" r="5.4" fill="#5563dc"/>
<circle cx="965.4" cy="622.0" r="5.4" fill="#5563dc"/>
<circle cx="964.5" cy="624.5" r="5.4" fill="#5563dc"/>
<circle cx="965.7" cy="627.0" r="5.4" fill="#6f4dc6"/>
<circle cx="964.1" cy="629.5" r="5.4" fill="#6f4dc6"/>
<circle cx="965.1" cy="632.0" r="5.4" fill="#7b3db8"/>
<circle cx="964.8" cy="556.0" r="3.6" fill="#cc0070"/>
<circle cx="964.8" cy="558.5" r="3.6" fill="#cc0070"/>
<circle cx="964.8" cy="561.0" r="3.6" fill="#de0052"/>
<circle cx="964.8" cy="563.5" r="3.6" fill="#de0052"/>
<circle cx="964.8" cy="566.0" r="3.6" fill="#de0052"/>
<circle cx="964.8" cy="568.5" r="3.6" fill="#de0052"/>
<circle cx="964.8" cy="571.0" r="3.6" fill="#de0052"/>
<circle cx="964.8" cy="573.5" r="3.6" fill="#de0052"/>
<circle cx="964.8" cy="576.0" r="3.6" fill="#de0052"/>
<circle cx="964.8" cy="578.5" r="3.6" fill="#de0052"/>
<circle cx="964.8" cy="581.0" r="3.6" fill="#de0052"/>
<circle cx="964.8" cy="583.5" r="3.6" fill="#de0052"/>
<circle cx="964.8" cy="586.0" r="3.6" fill="#de0052"/>
<circle cx="964.8" cy="588.5" r="3.6" fill="#9a0c9e"/>
<circle cx="964.8" cy="591.0" r="3.6" fill="#9a0c9e"/>
<circle cx="196.8" cy="220.8" r="5.4" fill="#4274ec"/>
<circle cx="196.8" cy="254.5" r="5.4" fill="#6f4dc6"/>
<circle cx="350.4" cy="148.0" r="5.4" fill="#8428a8"/>
<circle cx="388.8" cy="165.7" r="5.4" fill="#b80086"/>
<circle cx="427.2" cy="94.7" r="5.4" fill="#b80086"/>
<circle cx="427.2" cy="169.6" r="5.4" fill="#4d89f6"/>
<circle cx="427.2" cy="226.7" r="5.4" fill="#cc0070"/>
<circle cx="427.2" cy="358.7" r="5.4" fill="#7b3db8"/>
<circle cx="465.6" cy="53.1" r="5.4" fill="#8428a8"/>
<circle cx="465.6" cy="149.6" r="5.4" fill="#8428a8"/>
<circle cx="465.6" cy="172.7" r="5.4" fill="#4d89f6"/>
<circle cx="465.6" cy="257.8" r="5.4" fill="#de0052"/>
<circle cx="465.6" cy="386.3" r="5.4" fill="#cc0070"/>
<circle cx="465.6" cy="414.0" r="5.4" fill="#4274ec"/>
<circle cx="504.0" cy="182.8" r="5.4" fill="#4274ec"/>
<circle cx="504.0" cy="206.0" r="5.4" fill="#9a0c9e"/>
<circle cx="504.0" cy="240.6" r="5.4" fill="#9a0c9e"/>
<circle cx="504.0" cy="275.2" r="5.4" fill="#5563dc"/>
<circle cx="504.0" cy="319.3" r="5.4" fill="#de0052"/>
<circle cx="504.0" cy="312.7" r="5.4" fill="#6f4dc6"/>
<circle cx="504.0" cy="328.3" r="5.4" fill="#6f4dc6"/>
<circle cx="504.0" cy="405.5" r="5.4" fill="#5563dc"/>
<circle cx="504.0" cy="398.5" r="5.4" fill="#de0052"/>
<circle cx="504.0" cy="402.2" r="5.4" fill="#b80086"/>
<circle cx="542.4" cy="141.7" r="5.4" fill="#5563dc"/>
<circle cx="542.4" cy="152.3" r="5.4" fill="#4d89f6"/>
<circle cx="542.4" cy="175.5" r="5.4" fill="#6f4dc6"/>
<circle cx="542.4" cy="198.5" r="5.4" fill="#5563dc"/>
<circle cx="542.4" cy="204.8" r="5.4" fill="#4d89f6"/>
<circle cx="542.4" cy="218.8" r="5.4" fill="#de0052"/>
<circle cx="542.4" cy="211.0" r="5.4" fill="#6f4dc6"/>
<circle cx="542.4" cy="226.6" r="5.4" fill="#4d89f6"/>
<circle cx="542.4" cy="237.5" r="5.4" fill="#5563dc"/>
<circle cx="542.4" cy="242.1" r="5.4" fill="#5563dc"/>
<circle cx="542.4" cy="253.5" r="5.4" fill="#9a0c9e"/>
<circle cx="542.4" cy="256.2" r="5.4" fill="#de0052"/>
<circle cx="542.4" cy="272.5" r="5.4" fill="#6f4dc6"/>
<circle cx="542.4" cy="309.7" r="5.4" fill="#4274ec"/>
<circle cx="542.4" cy="349.7" r="5.4" fill="#6f4dc6"/>
<circle cx="542.4" cy="361.0" r="5.4" fill="#4274ec"/>
<circle cx="542.4" cy="364.7" r="5.4" fill="#4d89f6"/>
<circle cx="542.4" cy="371.4" r="5.4" fill="#cc0070"/>
<circle cx="542.4" cy="420.2" r="5.4" fill="#cc0070"/>
<circle cx="542.4" cy="460.0" r="5.4" fill="#cc0070"/>
<circle cx="580.8" cy="312.1" r="5.4" fill="#de0052"/>
<circle cx="580.8" cy="318.4" r="5.4" fill="#8428a8"/>
<circle cx="580.8" cy="327.0" r="5.4" fill="#5563dc"/>
<circle cx="580.8" cy="336.0" r="5.4" fill="#b80086"/>
<circle cx="580.8" cy="331.7" r="5.4" fill="#8428a8"/>
<circle cx="580.8" cy="349.5" r="5.4" fill="#b80086"/>
<circle cx="580.8" cy="344.9" r="5.4" fill="#4d89f6"/>
<circle cx="580.8" cy="359.3" r="5.4" fill="#9a0c9e"/>
<circle cx="580.8" cy="370.3" r="5.4" fill="#5563dc"/>
<circle cx="580.8" cy="376.0" r="5.4" fill="#6f4dc6"/>
<circle cx="580.8" cy="388.7" r="5.4" fill="#b80086"/>
<circle cx="580.8" cy="424.0" r="5.4" fill="#de0052"/>
<circle cx="580.8" cy="422.0" r="5.4" fill="#6f4dc6"/>
<circle cx="580.8" cy="429.2" r="5.4" fill="#4274ec"/>
<circle cx="580.8" cy="437.5" r="5.4" fill="#4274ec"/>
<circle cx="580.8" cy="449.5" r="5.4" fill="#5563dc"/>
<circle cx="580.8" cy="457.2" r="5.4" fill="#4274ec"/>
<circle cx="580.8" cy="470.2" r="5.4" fill="#cc0070"/>
<circle cx="619.2" cy="433.7" r="5.4" fill="#cc0070"/>
<circle cx="619.2" cy="440.6" r="5.4" fill="#8428a8"/>
<circle cx="619.2" cy="451.0" r="5.4" fill="#4d89f6"/>
<circle cx="619.2" cy="446.2" r="5.4" fill="#4d89f6"/>
<circle cx="619.2" cy="453.5" r="5.4" fill="#4274ec"/>
<circle cx="619.2" cy="460.0" r="5.4" fill="#6f4dc6"/>
<circle cx="619.2" cy="470.0" r="5.4" fill="#8428a8"/>
<circle cx="619.2" cy="476.9" r="5.4" fill="#b80086"/>
<circle cx="619.2" cy="487.3" r="5.4" fill="#4d89f6"/>
<circle cx="619.2" cy="497.7" r="5.4" fill="#9a0c9e"/>
<circle cx="619.2" cy="508.8" r="5.4" fill="#4d89f6"/>
<circle cx="619.2" cy="525.4" r="5.4" fill="#de0052"/>
<circle cx="619.2" cy="521.8" r="5.4" fill="#b80086"/>
<circle cx="619.2" cy="518.0" r="5.4" fill="#de0052"/>
<circle cx="619.2" cy="531.0" r="5.4" fill="#5563dc"/>
<circle cx="619.2" cy="540.0" r="5.4" fill="#6f4dc6"/>
<circle cx="619.2" cy="537.4" r="5.4" fill="#9a0c9e"/>
<circle cx="619.2" cy="548.5" r="5.4" fill="#4d89f6"/>
<circle cx="619.2" cy="567.0" r="5.4" fill="#9a0c9e"/>
<circle cx="657.6" cy="468.8" r="5.4" fill="#de0052"/>
<circle cx="657.6" cy="501.7" r="5.4" fill="#de0052"/>
<circle cx="657.6" cy="505.6" r="5.4" fill="#b80086"/>
<circle cx="657.6" cy="511.5" r="5.4" fill="#4d89f6"/>
<circle cx="657.6" cy="520.3" r="5.4" fill="#7b3db8"/>
<circle cx="657.6" cy="525.7" r="5.4" fill="#4274ec"/>
<circle cx="657.6" cy="532.0" r="5.4" fill="#9a0c9e"/>
<circle cx="657.6" cy="543.0" r="5.4" fill="#4d89f6"/>
<circle cx="657.6" cy="547.0" r="5.4" fill="#4d89f6"/>
<circle cx="657.6" cy="539.4" r="5.4" fill="#4d89f6"/>
<circle cx="657.6" cy="551.8" r="5.4" fill="#4274ec"/>
<circle cx="657.6" cy="558.6" r="5.4" fill="#de0052"/>
<circle cx="657.6" cy="564.5" r="5.4" fill="#4274ec"/>
<circle cx="657.6" cy="570.4" r="5.4" fill="#8428a8"/>
<circle cx="657.6" cy="575.8" r="5.4" fill="#4274ec"/>
<circle cx="657.6" cy="585.0" r="5.4" fill="#de0052"/>
<circle cx="657.6" cy="581.2" r="5.4" fill="#8428a8"/>
<circle cx="657.6" cy="591.0" r="5.4" fill="#5563dc"/>
<circle cx="657.6" cy="599.3" r="5.4" fill="#de0052"/>
<circle cx="657.6" cy="604.7" r="5.4" fill="#5563dc"/>
<circle cx="657.6" cy="617.5" r="5.4" fill="#de0052"/>
<circle cx="696.0" cy="614.0" r="5.4" fill="#9a0c9e"/>
<circle cx="696.0" cy="569.7" r="5.4" fill="#4d89f6"/>
<circle cx="696.0" cy="581.0" r="5.4" fill="#de0052"/>
<circle cx="696.0" cy="576.5" r="5.4" fill="#6f4dc6"/>
<circle cx="696.0" cy="587.0" r="5.4" fill="#4d89f6"/>
<circle cx="696.0" cy="594.5" r="5.4" fill="#4274ec"/>
<circle cx="696.0" cy="600.5" r="5.4" fill="#5563dc"/>
<circle cx="696.0" cy="607.9" r="5.4" fill="#4274ec"/>
<circle cx="696.0" cy="612.0" r="5.4" fill="#4274ec"/>
<circle cx="696.0" cy="621.4" r="5.4" fill="#de0052"/>
<circle cx="696.0" cy="630.4" r="5.4" fill="#4d89f6"/>
<circle cx="696.0" cy="639.4" r="5.4" fill="#b80086"/>
<circle cx="696.0" cy="649.1" r="5.4" fill="#9a0c9e"/>
<circle cx="734.4" cy="584.0" r="5.4" fill="#5563dc"/>
<circle cx="734.4" cy="590.0" r="5.4" fill="#6f4dc6"/>
<circle cx="734.4" cy="596.0" r="5.4" fill="#4274ec"/>
<circle cx="734.4" cy="603.4" r="5.4" fill="#8428a8"/>
<circle cx="734.4" cy="613.9" r="5.4" fill="#9a0c9e"/>
<circle cx="734.4" cy="621.4" r="5.4" fill="#4274ec"/>
<circle cx="734.4" cy="627.4" r="5.4" fill="#8428a8"/>
<circle cx="734.4" cy="633.4" r="5.4" fill="#6f4dc6"/>
<circle cx="734.4" cy="640.9" r="5.4" fill="#9a0c9e"/>
<circle cx="734.4" cy="649.9" r="5.4" fill="#b80086"/>
<circle cx="734.4" cy="658.9" r="5.4" fill="#7b3db8"/>
<circle cx="734.4" cy="679.1" r="5.4" fill="#9a0c9e"/>
<circle cx="772.8" cy="610.4" r="5.4" fill="#9a0c9e"/>
<circle cx="772.8" cy="624.0" r="5.4" fill="#cc0070"/>
<circle cx="772.8" cy="637.4" r="5.4" fill="#de0052"/>
<circle cx="772.8" cy="650.0" r="5.4" fill="#b80086"/>
<circle cx="772.8" cy="661.0" r="5.4" fill="#de0052"/>
<circle cx="772.8" cy="588.0" r="5.4" fill="#6f4dc6"/>
<circle cx="772.8" cy="596.2" r="5.4" fill="#4274ec"/>
<circle cx="772.8" cy="603.0" r="5.4" fill="#4274ec"/>
<circle cx="772.8" cy="615.5" r="5.4" fill="#5563dc"/>
<circle cx="772.8" cy="619.0" r="5.4" fill="#5563dc"/>
<circle cx="772.8" cy="627.5" r="5.4" fill="#5563dc"/>
<circle cx="772.8" cy="631.5" r="5.4" fill="#4274ec"/>
<circle cx="772.8" cy="641.0" r="5.4" fill="#5563dc"/>
<circle cx="772.8" cy="645.4" r="5.4" fill="#6f4dc6"/>
<circle cx="772.8" cy="655.0" r="5.4" fill="#6f4dc6"/>
<circle cx="772.8" cy="657.5" r="5.4" fill="#6f4dc6"/>
<circle cx="772.8" cy="668.9" r="5.4" fill="#5563dc"/>
<circle cx="811.2" cy="583.5" r="5.4" fill="#de0052"/>
<circle cx="811.2" cy="588.0" r="5.4" fill="#6f4dc6"/>
<circle cx="811.2" cy="594.0" r="5.4" fill="#6f4dc6"/>
<circle cx="811.2" cy="600.0" r="5.4" fill="#6f4dc6"/>
<circle cx="811.2" cy="606.7" r="5.4" fill="#4274ec"/>
<circle cx="811.2" cy="612.0" r="5.4" fill="#de0052"/>
<circle cx="811.2" cy="617.2" r="5.4" fill="#9a0c9e"/>
<circle cx="811.2" cy="626.9" r="5.4" fill="#4274ec"/>
<circle cx="811.2" cy="633.0" r="5.4" fill="#4274ec"/>
<circle cx="811.2" cy="638.9" r="5.4" fill="#7b3db8"/>
<circle cx="811.2" cy="648.0" r="5.4" fill="#9a0c9e"/>
<circle cx="811.2" cy="657.6" r="5.4" fill="#b80086"/>
<circle cx="811.2" cy="665.9" r="5.4" fill="#7b3db8"/>
<circle cx="811.2" cy="676.4" r="5.4" fill="#4274ec"/>
<circle cx="811.2" cy="683.1" r="5.4" fill="#8428a8"/>
<circle cx="849.6" cy="584.2" r="5.4" fill="#9a0c9e"/>
<circle cx="849.6" cy="606.0" r="5.4" fill="#de0052"/>
<circle cx="849.6" cy="612.0" r="5.4" fill="#de0052"/>
<circle cx="849.6" cy="617.9" r="5.4" fill="#de0052"/>
<circle cx="849.6" cy="625.4" r="5.4" fill="#8428a8"/>
<circle cx="849.6" cy="634.4" r="5.4" fill="#cc0070"/>
<circle cx="849.6" cy="642.0" r="5.4" fill="#4274ec"/>
<circle cx="849.6" cy="651.6" r="5.4" fill="#5563dc"/>
<circle cx="849.6" cy="660.0" r="5.4" fill="#4274ec"/>
<circle cx="849.6" cy="666.0" r="5.4" fill="#4274ec"/>
<circle cx="849.6" cy="673.4" r="5.4" fill="#4d89f6"/>
<circle cx="849.6" cy="679.4" r="5.4" fill="#b80086"/>
<circle cx="849.6" cy="689.3" r="5.4" fill="#6f4dc6"/>
<circle cx="849.6" cy="699.7" r="5.4" fill="#4274ec"/>
<circle cx="849.6" cy="704.9" r="5.4" fill="#6f4dc6"/>
<circle cx="888.0" cy="595.5" r="5.4" fill="#cc0070"/>
<circle cx="888.0" cy="606.0" r="5.4" fill="#9a0c9e"/>
<circle cx="888.0" cy="627.7" r="5.4" fill="#de0052"/>
<circle cx="888.0" cy="634.4" r="5.4" fill="#6f4dc6"/>
<circle cx="888.0" cy="640.4" r="5.4" fill="#cc0070"/>
<circle cx="888.0" cy="647.9" r="5.4" fill="#9a0c9e"/>
<circle cx="888.0" cy="658.4" r="5.4" fill="#8428a8"/>
<circle cx="888.0" cy="667.4" r="5.4" fill="#4d89f6"/>
<circle cx="888.0" cy="676.4" r="5.4" fill="#5563dc"/>
<circle cx="888.0" cy="682.0" r="5.4" fill="#4274ec"/>
<circle cx="888.0" cy="686.2" r="5.4" fill="#9a0c9e"/>
<circle cx="888.0" cy="692.4" r="5.4" fill="#8428a8"/>
<circle cx="888.0" cy="698.7" r="5.4" fill="#5563dc"/>
<circle cx="888.0" cy="705.4" r="5.4" fill="#4d89f6"/>
<circle cx="888.0" cy="710.0" r="5.4" fill="#4274ec"/>
<circle cx="888.0" cy="716.3" r="5.4" fill="#6f4dc6"/>
<circle cx="888.0" cy="724.1" r="5.4" fill="#b80086"/>
<circle cx="888.0" cy="737.0" r="5.4" fill="#7b3db8"/>
<circle cx="888.0" cy="749.0" r="5.4" fill="#4274ec"/>
<circle cx="926.4" cy="568.9" r="5.4" fill="#4d89f6"/>
<circle cx="926.4" cy="572.0" r="5.4" fill="#4d89f6"/>
<circle cx="926.4" cy="580.1" r="5.4" fill="#8428a8"/>
<circle cx="926.4" cy="593.6" r="5.4" fill="#9a0c9e"/>
<circle cx="926.4" cy="599.0" r="5.4" fill="#5563dc"/>
<circle cx="926.4" cy="604.9" r="5.4" fill="#6f4dc6"/>
<circle cx="926.4" cy="612.4" r="5.4" fill="#de0052"/>
<circle cx="926.4" cy="621.3" r="5.4" fill="#4274ec"/>
<circle cx="926.4" cy="627.0" r="5.4" fill="#6f4dc6"/>
<circle cx="926.4" cy="629.0" r="5.4" fill="#5563dc"/>
<circle cx="926.4" cy="637.1" r="5.4" fill="#de0052"/>
<circle cx="926.4" cy="645.3" r="5.4" fill="#7b3db8"/>
<circle cx="926.4" cy="653.0" r="5.4" fill="#6f4dc6"/>
<circle cx="926.4" cy="660.6" r="5.4" fill="#b80086"/>
<circle cx="926.4" cy="664.0" r="5.4" fill="#b80086"/>
<circle cx="926.4" cy="672.0" r="5.4" fill="#4274ec"/>
<circle cx="926.4" cy="679.6" r="5.4" fill="#4d89f6"/>
<circle cx="926.4" cy="687.0" r="5.4" fill="#6f4dc6"/>
<circle cx="926.4" cy="693.5" r="5.4" fill="#5563dc"/>
<circle cx="926.4" cy="703.7" r="5.4" fill="#4274ec"/>
<circle cx="926.4" cy="707.5" r="5.4" fill="#4274ec"/>
<circle cx="926.4" cy="714.4" r="5.4" fill="#7b3db8"/>
<circle cx="964.8" cy="536.7" r="5.4" fill="#8428a8"/>
<circle cx="964.8" cy="546.4" r="5.4" fill="#4274ec"/>
<circle cx="964.8" cy="550.2" r="5.4" fill="#cc0070"/>
<circle cx="964.8" cy="555.4" r="5.4" fill="#cc0070"/>
<circle cx="964.8" cy="564.4" r="5.4" fill="#de0052"/>
<circle cx="964.8" cy="574.2" r="5.4" fill="#de0052"/>
<circle cx="964.8" cy="583.9" r="5.4" fill="#de0052"/>
<circle cx="964.8" cy="592.1" r="5.4" fill="#9a0c9e"/>
<circle cx="964.8" cy="599.0" r="5.4" fill="#b80086"/>
<circle cx="964.8" cy="607.1" r="5.4" fill="#cc0070"/>
<circle cx="964.8" cy="615.4" r="5.4" fill="#7b3db8"/>
<circle cx="964.8" cy="622.5" r="5.4" fill="#5563dc"/>
<circle cx="964.8" cy="627.6" r="5.4" fill="#6f4dc6"/>
<circle cx="964.8" cy="633.3" r="5.4" fill="#7b3db8"/>
<circle cx="964.8" cy="648.5" r="5.4" fill="#4274ec"/>
<circle cx="964.8" cy="665.0" r="5.4" fill="#5563dc"/>
<circle cx="964.8" cy="697.9" r="5.4" fill="#4d89f6"/>
<circle cx="1003.2" cy="517.7" r="5.4" fill="#9a0c9e"/>
<circle cx="1003.2" cy="540.2" r="5.4" fill="#de0052"/>
<circle cx="1003.2" cy="564.5" r="5.4" fill="#5563dc"/>
<circle cx="1003.2" cy="576.5" r="5.4" fill="#4274ec"/>
<circle cx="1003.2" cy="572.0" r="5.4" fill="#9a0c9e"/>
<circle cx="1003.2" cy="581.7" r="5.4" fill="#9a0c9e"/>
<circle cx="1003.2" cy="594.2" r="5.4" fill="#4d89f6"/>
<circle cx="1003.2" cy="605.0" r="5.4" fill="#8428a8"/>
<circle cx="1003.2" cy="620.5" r="5.4" fill="#b80086"/>
<circle cx="1003.2" cy="619.0" r="5.4" fill="#4d89f6"/>
<circle cx="1003.2" cy="648.2" r="5.4" fill="#4274ec"/>
<circle cx="1041.6" cy="324.1" r="5.4" fill="#9a0c9e"/>
<circle cx="1041.6" cy="378.0" r="5.4" fill="#b80086"/>
<circle cx="1041.6" cy="376.1" r="5.4" fill="#4274ec"/>
<circle cx="1041.6" cy="415.0" r="5.4" fill="#b80086"/>
<circle cx="1041.6" cy="491.6" r="5.4" fill="#5563dc"/>
<circle cx="1041.6" cy="504.0" r="5.4" fill="#9a0c9e"/>
<circle cx="1041.6" cy="557.0" r="5.4" fill="#4274ec"/>
<circle cx="1041.6" cy="561.5" r="5.4" fill="#4d89f6"/>
<circle cx="1080.0" cy="332.2" r="5.4" fill="#de0052"/>
<circle cx="1080.0" cy="362.4" r="5.4" fill="#4274ec"/>
<circle cx="1080.0" cy="557.0" r="5.4" fill="#4d89f6"/>
<circle cx="1080.0" cy="593.3" r="5.4" fill="#4d89f6"/>
<rect x="1184.8" y="18.8" width="9.6" height="765" fill="url(#cb)"/>
<rect x="1194.4" y="758.00" width="9.3" height="2" fill="#000"/>
<text x="1211.40" y="769.60" font-size="28" fill="#000">5</text>
<text x="1226.97" y="769.60" font-size="28" fill="#000">0</text>
<rect x="1194.4" y="646.93" width="9.3" height="2" fill="#000"/>
<text x="1211.40" y="658.53" font-size="28" fill="#000">6</text>
<text x="1226.97" y="658.53" font-size="28" fill="#000">0</text>
<rect x="1194.4" y="535.87" width="9.3" height="2" fill="#000"/>
<text x="1211.40" y="547.47" font-size="28" fill="#000">7</text>
<text x="1226.97" y="547.47" font-size="28" fill="#000">0</text>
<rect x="1194.4" y="424.80" width="9.3" height="2" fill="#000"/>
<text x="1211.40" y="436.40" font-size="28" fill="#000">8</text>
<text x="1226.97" y="436.40" font-size="28" fill="#000">0</text>
<rect x="1194.4" y="313.73" width="9.3" height="2" fill="#000"/>
<text x="1211.40" y="325.33" font-size="28" fill="#000">9</text>
<text x="1226.97" y="325.33" font-size="28" fill="#000">0</text>
<rect x="1194.4" y="202.67" width="9.3" height="2" fill="#000"/>
<rect x="1218.17" y="194.44" width="2.66" height="19.82" fill="#000"/><line x1="1219.76" y1="195.64" x2="1214.97" y2="200.18" stroke="#000" stroke-width="2.39"/>
<text x="1226.97" y="214.27" font-size="28" fill="#000">0</text>
<text x="1242.54" y="214.27" font-size="28" fill="#000">0</text>
<rect x="1194.4" y="91.60" width="9.3" height="2" fill="#000"/>
<rect x="1218.17" y="83.38" width="2.66" height="19.82" fill="#000"/><line x1="1219.76" y1="84.57" x2="1214.97" y2="89.12" stroke="#000" stroke-width="2.39"/>
<rect x="1233.73" y="83.38" width="2.66" height="19.82" fill="#000"/><line x1="1235.33" y1="84.57" x2="1230.54" y2="89.12" stroke="#000" stroke-width="2.39"/>
<text x="1242.54" y="103.20" font-size="28" fill="#000">0</text>
<g transform="translate(1293,404) rotate(-90)"><g><text transform="translate(-331.68,0.00) scale(0.691,1.0)" font-size="34.2" fill="#000">C</text><text transform="translate(-312.22,0.00) scale(0.950,0.86)" font-size="34.2" fill="#000">r</text><text transform="translate(-297.83,0.00) scale(0.932,0.86)" font-size="34.2" fill="#000">e</text><text transform="translate(-280.72,0.00) scale(0.852,0.86)" font-size="34.2" fill="#000">a</text><text transform="translate(-259.64,0.00) scale(0.950,0.94)" font-size="34.2" fill="#000">t</text><text transform="translate(-241.60,0.00) scale(0.950,0.94)" font-size="34.2" fill="#000">i</text><text transform="translate(-230.06,0.00) scale(0.950,0.86)" font-size="34.2" fill="#000">n</text><text transform="translate(-207.60,0.00) scale(0.950,0.94)" font-size="34.2" fill="#000">i</text><text transform="translate(-196.06,0.00) scale(0.950,0.86)" font-size="34.2" fill="#000">n</text><text transform="translate(-178.83,0.00) scale(0.932,0.86)" font-size="34.2" fill="#000">e</text><text transform="translate(-157.51,0.00) scale(0.950,1.0)" font-size="34.2" fill="#000">,</text><text transform="translate(-125.22,0.00) scale(0.950,0.86)" font-size="34.2" fill="#000">r</text><text transform="translate(-110.83,0.00) scale(0.932,0.86)" font-size="34.2" fill="#000">e</text><text transform="translate(-89.77,0.00) scale(0.950,0.94)" font-size="34.2" fill="#000">f</text><text transform="translate(-74.22,0.00) scale(0.950,0.86)" font-size="34.2" fill="#000">r</text><text transform="translate(-54.60,0.00) scale(0.950,0.94)" font-size="34.2" fill="#000">i</text><text transform="translate(-42.67,0.00) scale(0.950,0.86)" font-size="34.2" fill="#000">g</text><text transform="translate(-25.83,0.00) scale(0.932,0.86)" font-size="34.2" fill="#000">e</text><text transform="translate(-6.22,0.00) scale(0.950,0.86)" font-size="34.2" fill="#000">r</text><text transform="translate(8.28,0.00) scale(0.852,0.86)" font-size="34.2" fill="#000">a</text><text transform="translate(29.36,0.00) scale(0.950,0.94)" font-size="34.2" fill="#000">t</text><text transform="translate(42.17,0.00) scale(0.932,0.86)" font-size="34.2" fill="#000">e</text><text transform="translate(59.33,0.00) scale(0.950,0.94)" font-size="34.2" fill="#000">d</text><text transform="translate(94.01,0.00) scale(0.950,0.86)" font-size="34.2" fill="#000">s</text><text transform="translate(110.17,0.00) scale(0.932,0.86)" font-size="34.2" fill="#000">e</text><text transform="translate(129.78,0.00) scale(0.950,0.86)" font-size="34.2" fill="#000">r</text><text transform="translate(143.99,0.00) scale(0.950,0.86)" font-size="34.2" fill="#000">u</text><text transform="translate(161.10,0.00) scale(0.624,0.86)" font-size="34.2" fill="#000">m</text><text transform="translate(201.70,-2.56) scale(0.950,0.9)" font-size="34.2" fill="#000">(</text><text transform="translate(211.99,0.00) scale(0.950,0.86)" font-size="34.2" fill="#000">u</text><text transform="translate(229.10,0.00) scale(0.624,0.86)" font-size="34.2" fill="#000">m</text><text transform="translate(246.19,0.00) scale(0.926,0.86)" font-size="34.2" fill="#000">o</text><text transform="translate(268.38,0.00) scale(0.950,0.94)" font-size="34.2" fill="#000">l</text><line x1="282.50" y1="0.90" x2="296.80" y2="-24.30" stroke="#000" stroke-width="2.3" stroke-linecap="round"/><text transform="translate(296.17,0.00) scale(0.950,1.0)" font-size="34.2" fill="#000">L</text><text transform="translate(317.03,-2.56) scale(0.950,0.9)" font-size="34.2" fill="#000">)</text></g></g>
</svg></body></html>
